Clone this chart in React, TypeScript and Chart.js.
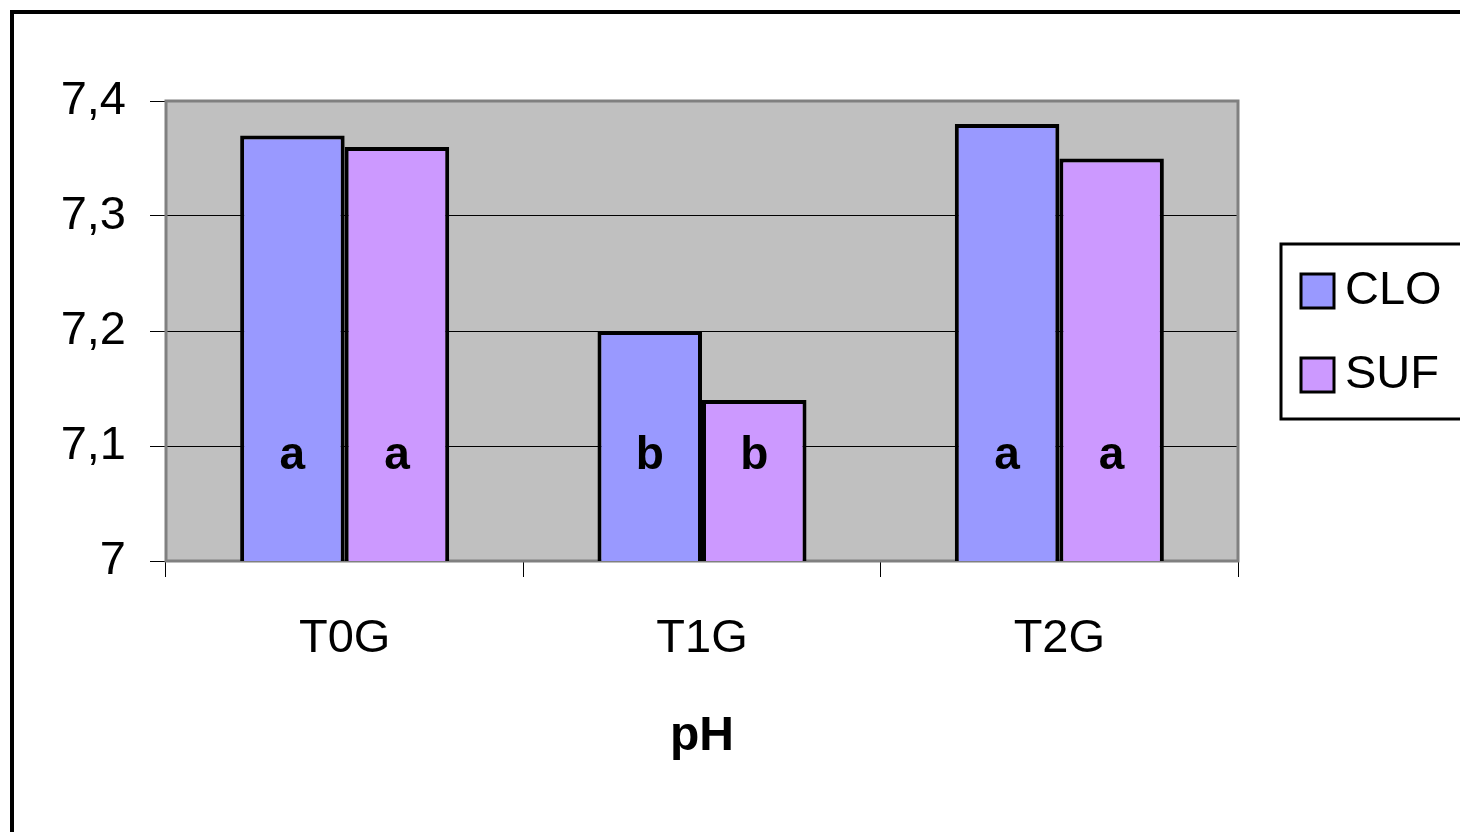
import React, { useEffect, useRef } from 'react';
import { Chart, registerables } from 'chart.js';

Chart.register(...registerables);

const categories = ['T0G', 'T1G', 'T2G'];
const cloValues = [7.37, 7.2, 7.38];
const sufValues = [7.36, 7.14, 7.35];
const cloLetters = ['a', 'b', 'a'];
const sufLetters = ['a', 'b', 'a'];
const seriesNames = ['CLO', 'SUF'];
const seriesColors = ['#9999FF', '#CC99FF'];
const yTickLabels = ['7', '7,1', '7,2', '7,3', '7,4'];
const axisTitle = 'pH';
const letterLevel = 7.08;

const FONT = "'Liberation Sans', Arial, sans-serif";

// Gray plot background, drawn under the grid
const plotBackground = {
  id: 'plotBackground',
  beforeDraw(chart: any) {
    const { ctx, chartArea: a } = chart;
    ctx.save();
    ctx.fillStyle = '#C0C0C0';
    ctx.fillRect(a.left, a.top, a.right - a.left, a.bottom - a.top);
    ctx.restore();
  },
  beforeDatasetsDraw(chart: any) {
    const { ctx, chartArea: a } = chart;
    ctx.save();
    ctx.strokeStyle = '#808080';
    ctx.lineWidth = 3;
    ctx.strokeRect(a.left, a.top, a.right - a.left, a.bottom - a.top);
    ctx.restore();
  },
};

// Significance letters inside bars, legend box and outer frame
const overlays = {
  id: 'overlays',
  afterDraw(chart: any) {
    const { ctx } = chart;
    const yPix = chart.scales.y.getPixelForValue(letterLevel);
    ctx.save();
    ctx.fillStyle = '#000';
    ctx.font = `bold 46px ${FONT}`;
    ctx.textAlign = 'center';
    ctx.textBaseline = 'alphabetic';
    [cloLetters, sufLetters].forEach((letters, di) => {
      const meta = chart.getDatasetMeta(di);
      letters.forEach((t, i) => {
        ctx.fillText(t, meta.data[i].x, yPix);
      });
    });

    // legend
    ctx.lineWidth = 3;
    ctx.strokeStyle = '#000';
    ctx.fillStyle = '#fff';
    ctx.fillRect(1281, 244, 200, 175);
    ctx.strokeRect(1281, 244, 200, 175);
    ctx.font = `47px ${FONT}`;
    ctx.textAlign = 'left';
    seriesNames.forEach((name, i) => {
      const top = 274 + i * 84;
      ctx.fillStyle = seriesColors[i];
      ctx.fillRect(1301, top, 33, 34);
      ctx.strokeStyle = '#000';
      ctx.lineWidth = 3;
      ctx.strokeRect(1301, top, 33, 34);
      ctx.fillStyle = '#000';
      ctx.fillText(name, 1345, top + 30);
    });

    // outer frame
    ctx.lineWidth = 4;
    ctx.strokeStyle = '#000';
    ctx.strokeRect(12, 12, 3000, 3000);
    ctx.restore();
  },
};

export default function App() {
  const ref = useRef<HTMLCanvasElement | null>(null);

  useEffect(() => {
    if (!ref.current) return;
    const chart = new Chart(ref.current, {
      type: 'bar',
      data: {
        labels: categories,
        datasets: [
          {
            label: seriesNames[0],
            data: cloValues,
            backgroundColor: seriesColors[0],
            borderColor: '#000',
            borderWidth: 4,
          },
          {
            label: seriesNames[1],
            data: sufValues,
            backgroundColor: seriesColors[1],
            borderColor: '#000',
            borderWidth: 4,
          },
        ],
      },
      options: {
        responsive: false,
        animation: false,
        devicePixelRatio: 1,
        layout: { padding: { top: 101, right: 222, left: 0, bottom: 0 } },
        datasets: { bar: { categoryPercentage: 0.585, barPercentage: 1 } },
        plugins: {
          legend: { display: false },
          tooltip: { enabled: false },
        },
        scales: {
          x: {
            grid: {
              offset: true,
              drawOnChartArea: false,
              drawTicks: true,
              tickLength: 16,
              color: '#000',
              lineWidth: 1,
            },
            border: { display: false },
            ticks: {
              color: '#000',
              font: { family: FONT, size: 47 },
              padding: 34,
              maxRotation: 0,
            },
            title: {
              display: true,
              text: axisTitle,
              color: '#000',
              font: { family: FONT, size: 48, weight: 'bold' },
              padding: { top: 0, bottom: 66 },
            },
            afterFit(scale: any) {
              scale.height = 271;
            },
          },
          y: {
            min: 7,
            max: 7.4,
            grid: {
              color: '#000',
              lineWidth: 1,
              tickLength: 16,
            },
            border: { display: false },
            ticks: {
              stepSize: 0.1,
              color: '#000',
              font: { family: FONT, size: 47 },
              padding: 24,
              callback: (_v: any, i: number) => yTickLabels[i],
            },
            afterFit(scale: any) {
              scale.width = 166;
            },
          },
        },
      },
      plugins: [plotBackground, overlays],
    });
    return () => chart.destroy();
  }, []);

  return (
    <div style={{ position: 'fixed', left: 0, top: 0, width: 1460, height: 832, background: '#fff' }}>
      <canvas ref={ref} width={1460} height={832} style={{ display: 'block' }} />
    </div>
  );
}
